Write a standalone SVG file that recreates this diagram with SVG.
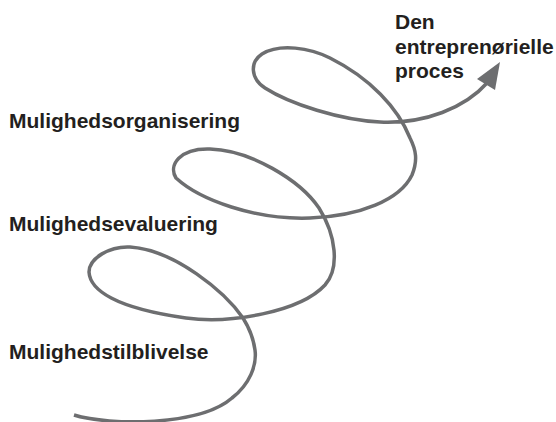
<svg xmlns="http://www.w3.org/2000/svg" width="556" height="422" viewBox="0 0 556 422">
<style>
.lbl{font-family:"Liberation Sans",Arial,Helvetica,sans-serif;font-weight:bold;font-size:21px;fill:#231f20;}
.spiral{fill:none;stroke:#6d6e70;stroke-width:3.5;stroke-linecap:butt;stroke-linejoin:round;}
.head{fill:#6d6e70;stroke:none;}
</style>
<rect width="556" height="422" fill="#ffffff"/>
<g id="connectors">
<path class="spiral" d="M74,415 C110,426 200,426 232,398 C250,384 257,365 255,350 C253,335 248,326 243,318 C225,292 175,250 130,247 C110,246 89,258 89,272 C90,290 115,308 186,318 C230,324 300,312 325,285 C340,268 336,235 319,208 C300,180 250,150 210,149 C180,148 168,165 176,178 C200,200 255,220 310,218 C360,216 400,200 412,175 C418,160 416,150 410,138 C398,108 370,78 330,58 C310,48 280,43 262,54 C250,62 250,78 265,88 C290,104 340,120 380,122 C425,124 465,108 488,82"/>
<polygon class="head" points="500,62 477,79 495,90"/>
</g>
<g id="node-proces">
<text class="lbl" x="395" y="29">Den</text>
<text class="lbl" x="395" y="54">entreprenørielle</text>
<text class="lbl" x="395" y="78">proces</text>
</g>
<g id="node-organisering"><text class="lbl" x="9" y="128">Mulighedsorganisering</text></g>
<g id="node-evaluering"><text class="lbl" x="9" y="231">Mulighedsevaluering</text></g>
<g id="node-tilblivelse"><text class="lbl" x="9" y="359">Mulighedstilblivelse</text></g>
</svg>
